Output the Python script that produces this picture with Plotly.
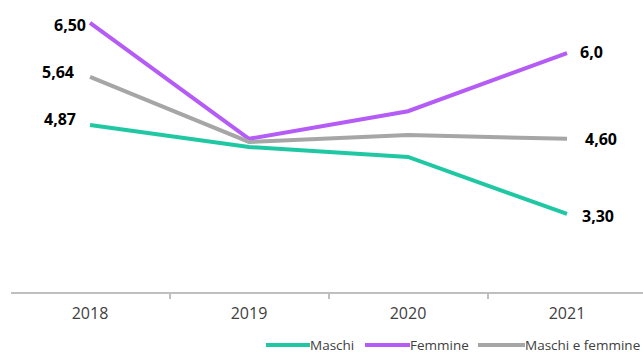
import plotly.graph_objects as go

years = ["2018", "2019", "2020", "2021"]
maschi = [4.87, 4.52, 4.36, 3.45]
femmine = [6.50, 4.65, 5.09, 6.02]
maschi_femmine = [5.64, 4.60, 4.71, 4.65]

series_names = ["Maschi", "Femmine", "Maschi e femmine"]
series_values = [maschi, femmine, maschi_femmine]
series_colors = ["#1FC8A2", "#B45CF5", "#A6A6A6"]

# data labels shown at first and last year
labels_first = ["4,87", "6,50", "5,64"]
labels_last = ["3,30", "6,0", "4,60"]

# label offsets (style, pixels)
first_shift = [(-13, 6), (-3, -2), (-15, 5)]
last_shift = [(14, -2), (12, 1), (17, 0)]

W, H = 643, 354
L, R, T, B = 11, 0, 0, 62
pw = W - L - R
ph = H - T - B

fig = go.Figure()
for name, vals, col in zip(series_names, series_values, series_colors):
    fig.add_trace(go.Scatter(x=list(range(len(years))), y=vals, mode="lines", name=name,
                             line=dict(color=col, width=4), showlegend=False))

ann = []
first_i, last_i = 0, len(years) - 1
for i, vals in enumerate(series_values):
    dx, dy = first_shift[i]
    ann.append(dict(x=first_i, y=vals[0], xref="x", yref="y", text=labels_first[i],
                    showarrow=False, xanchor="right", yanchor="middle",
                    xshift=dx, yshift=dy, borderpad=0,
                    font=dict(family="Open Sans", size=16, color="#000000", weight="bold")))
    dx, dy = last_shift[i]
    ann.append(dict(x=last_i, y=vals[-1], xref="x", yref="y", text=labels_last[i],
                    showarrow=False, xanchor="left", yanchor="middle",
                    xshift=dx, yshift=dy, borderpad=0,
                    font=dict(family="Open Sans", size=16, color="#000000", weight="bold")))

# manual legend (pixel positions converted to paper coords)
leg_y_px = 345
leg_items = [(266, 310), (365, 410), (478, 525)]
shapes = []
ly = -(leg_y_px - (T + ph)) / ph
for (x0, x1), name, col in zip(leg_items, series_names, series_colors):
    shapes.append(dict(type="line", xref="paper", yref="paper",
                       x0=(x0 - L) / pw, x1=(x1 - L) / pw, y0=ly, y1=ly,
                       line=dict(color=col, width=4)))
    ann.append(dict(x=(x1 - L) / pw, y=ly, xref="paper", yref="paper", text=name,
                    showarrow=False, xanchor="left", yanchor="middle", xshift=-1, borderpad=0,
                    font=dict(family="Open Sans", size=13.5, color="#404040")))

fig.update_layout(
    width=W, height=H,
    margin=dict(l=L, r=R, t=T, b=B),
    paper_bgcolor="white", plot_bgcolor="white",
    annotations=ann, shapes=shapes,
    showlegend=False,
    xaxis=dict(range=[-0.497, 3.478], showgrid=False,
               tickvals=list(range(len(years))), ticktext=years,
               showline=True, linecolor="#BFBFBF", linewidth=2,
               ticks="", ticklabelstandoff=6,
               tickfont=dict(family="Open Sans", size=16, color="#404040"),
               zeroline=False, fixedrange=True),
    yaxis=dict(range=[2.203, 6.867], visible=False, showgrid=False, zeroline=False),
)

# boundary tick marks between categories, drawn via minor ticks
fig.update_xaxes(minor=dict(tickvals=[i - 0.5 for i in range(len(years) + 1)],
                            ticks="outside", ticklen=5, tickcolor="#BFBFBF", tickwidth=2))

fig.write_html("out.html")
